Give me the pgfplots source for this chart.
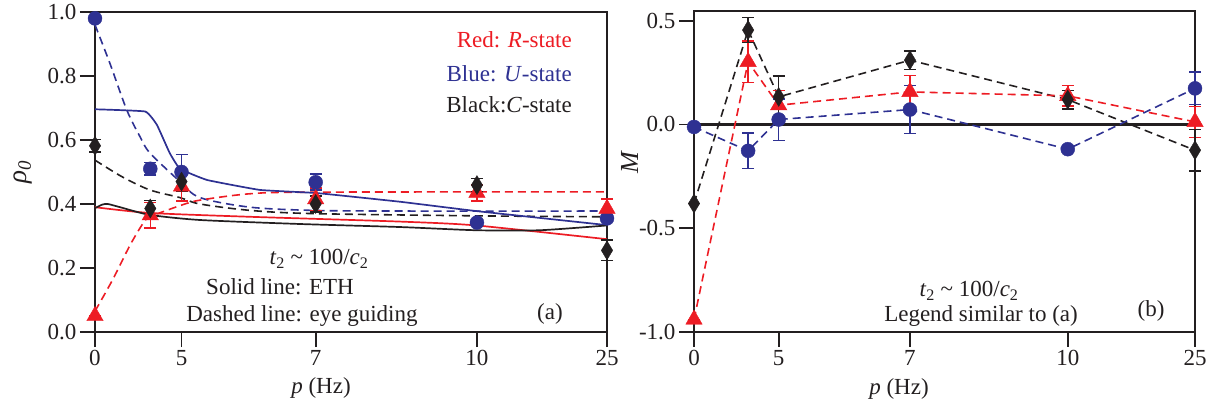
\documentclass[border=0pt]{standalone}
\usepackage{fontspec}
\setmainfont{Liberation Serif}
\usepackage{pgfplots}
\pgfplotsset{compat=1.18}
\definecolor{myred}{RGB}{237,28,36}
\definecolor{myblue}{RGB}{46,49,146}
\definecolor{myblack}{RGB}{35,31,32}
\newcommand\fs{\fontsize{23}{27}\selectfont}

\pgfplotstableread{
x     b      eb     r      er     k      ek
0     0.98   0      0.05   0      0.582  0.02
10.8  0.51   0.02   0.365  0.04   0.386  0.025
16.9  0.50   0.055  0.455  0.045  0.47   0.03
43.1  0.468  0.025  0.415  0.035  0.40   0.025
74.6  0.342  0      0.435  0.025  0.459  0.02
100   0.355  0.01   0.385  0.03   0.255  0.032
}\dataA

\pgfplotstableread{
x     b      eb     r      er     k      ek
0     -0.012 0      -0.94  0      -0.381 0
10.8  -0.127 0.085  0.302  0.1    0.455  0.06
16.9  0.024  0.1    0.093  0.07   0.133  0.1
43.1  0.072  0.115  0.157  0.08   0.31   0.045
74.6  -0.119 0      0.138  0.05   0.12   0.045
100   0.174  0.078  0.0125 0.075  -0.124 0.1
}\dataB

\pgfplotsset{
  base/.style={
    scale only axis, clip=false,
    xmin=0, xmax=100,
    xtick={0,16.9,43.1,74.6,100},
    xticklabels={0,5,7,10,25},
    tick align=outside, tick pos=left,
    major tick length=15pt,
    axis line style={line width=1.9pt, myblack},
    major tick style={line width=1.9pt, myblack},
    tick label style={font=\fs, myblack},
    /pgf/number format/assume math mode=true,
    yticklabel style={/pgf/number format/.cd, fixed, fixed zerofill, precision=1},
    error bars/error bar style={line width=1.5pt},
    error bars/error mark options={rotate=90, mark size=6pt, line width=1.5pt},
  },
  eb/.style={only marks, error bars/.cd, y dir=both, y explicit},
  bmark/.style={myblue, mark=*, mark size=7pt},
  rmark/.style={myred, mark=triangle*, mark size=9.5pt},
  kmark/.style={myblack, mark=diamond*, mark size=9.5pt, mark options={xscale=0.8}},
  dsh/.style={line width=1.6pt, dash pattern=on 8pt off 5pt},
  sol/.style={line width=1.7pt},
}

\begin{document}
\begin{tikzpicture}
\useasboundingbox (0,0) rectangle (1217pt,406pt);

\begin{axis}[base, at={(95pt,74pt)}, anchor=south west, width=512pt, height=320pt,
  ymin=0, ymax=1, ytick={0,0.2,0.4,0.6,0.8,1.0}]
% eye guiding (dashed)
\addplot[myblue, dsh, smooth, tension=0.5] coordinates {(0,0.96) (2.9,0.84) (6.2,0.694) (8.8,0.61) (10.7,0.56) (16.6,0.47) (20.5,0.42) (30.3,0.39) (42.6,0.38) (60,0.378) (100,0.378)};
\addplot[myblack, dsh, smooth, tension=0.5] coordinates {(0,0.537) (5.3,0.485) (10.7,0.444) (16.6,0.42) (20.5,0.40) (30.3,0.38) (42.6,0.37) (74.4,0.363) (100,0.36)};
\addplot[myred, dsh, smooth, tension=0.5] coordinates {(0,0.065) (3.5,0.165) (6.8,0.27) (9.4,0.34) (10.7,0.36) (14,0.38) (17,0.397) (20.5,0.412) (30.3,0.432) (42.6,0.437) (100,0.438)};
% ETH (solid)
\addplot[myblue, sol, smooth, tension=0.2] coordinates {(0,0.696) (9.8,0.689) (12.1,0.647) (14.6,0.559) (16.6,0.51) (21.9,0.475) (32.2,0.444) (43.4,0.434) (59.6,0.407) (74.4,0.378) (100,0.334)};
\addplot[myred, sol, smooth, tension=0.4] coordinates {(0,0.39) (10.7,0.372) (30.3,0.36) (59.6,0.345) (74.4,0.333) (100,0.29)};
\addplot[myblack, sol, smooth, tension=0.4] coordinates {(0,0.387) (1.4,0.398) (2.5,0.40) (4.9,0.39) (10.7,0.366) (20.5,0.35) (40,0.3375) (59.6,0.328) (74.4,0.318) (86.9,0.318) (100,0.333)};
% data
\addplot[bmark, eb] table[x=x, y=b, y error=eb] {\dataA};
\addplot[rmark, eb] table[x=x, y=r, y error=er] {\dataA};
\addplot[kmark, eb] table[x=x, y=k, y error=ek] {\dataA};
\end{axis}

\begin{axis}[base, at={(694pt,74pt)}, anchor=south west, width=501pt, height=321pt,
  ymin=-1, ymax=0.547, ytick={-1,-0.5,0,0.5}]
\addplot[myblack, line width=2.8pt, forget plot] coordinates {(0,0) (100,0)};
\addplot[myblack, dsh] table[x=x, y=k] {\dataB};
\addplot[myred, dsh] table[x=x, y=r] {\dataB};
\addplot[myblue, dsh] table[x=x, y=b] {\dataB};
\addplot[bmark, eb] table[x=x, y=b, y error=eb] {\dataB};
\addplot[rmark, eb] table[x=x, y=r, y error=er] {\dataB};
\addplot[kmark, eb] table[x=x, y=k, y error=ek] {\dataB};
\end{axis}

% texts panel (a)
\node[font=\fs, text=myred, anchor=base east, inner sep=0pt] at (572pt,358pt) {Red: \textit{R}-state};
\node[font=\fs, text=myblue, anchor=base east, inner sep=0pt] at (572pt,324.5pt) {Blue: \textit{U}-state};
\node[font=\fs, text=myblack, anchor=base east, inner sep=0pt] at (572pt,293pt) {Black:\textit{C}-state};
\node[font=\fs, text=myblack, anchor=base, inner sep=0pt] at (319pt,141pt) {\textit{t}\textsubscript{2} \textasciitilde{} 100/\textit{c}\textsubscript{2}};
\node[font=\fs, text=myblack, anchor=base, inner sep=0pt] at (280pt,111pt) {Solid line: ETH};
\node[font=\fs, text=myblack, anchor=base, inner sep=0pt] at (302pt,84.3pt) {Dashed line: eye guiding};
\node[font=\fs, text=myblack, anchor=base, inner sep=0pt] at (550pt,86pt) {(a)};
\node[font=\fs, text=myblack, anchor=base, inner sep=0pt] at (321pt,12pt) {\textit{p} (Hz)};
\node[font=\fontsize{27}{30}\selectfont, text=myblack, anchor=base, rotate=90, inner sep=0pt] at (27pt,234pt) {\textit{ρ}\textsubscript{\textit{0}}};
% texts panel (b)
\node[font=\fs, text=myblack, anchor=base, inner sep=0pt] at (969pt,109.3pt) {\textit{t}\textsubscript{2} \textasciitilde{} 100/\textit{c}\textsubscript{2}};
\node[font=\fs, text=myblack, anchor=base, inner sep=0pt] at (981pt,84.3pt) {Legend similar to (a)};
\node[font=\fs, text=myblack, anchor=base, inner sep=0pt] at (1151pt,89pt) {(b)};
\node[font=\fs, text=myblack, anchor=base, inner sep=0pt] at (899pt,11pt) {\textit{p} (Hz)};
\node[font=\fontsize{26}{30}\selectfont, text=myblack, anchor=base, rotate=90, inner sep=0pt] at (638pt,244pt) {\textit{M}};
\end{tikzpicture}
\end{document}
